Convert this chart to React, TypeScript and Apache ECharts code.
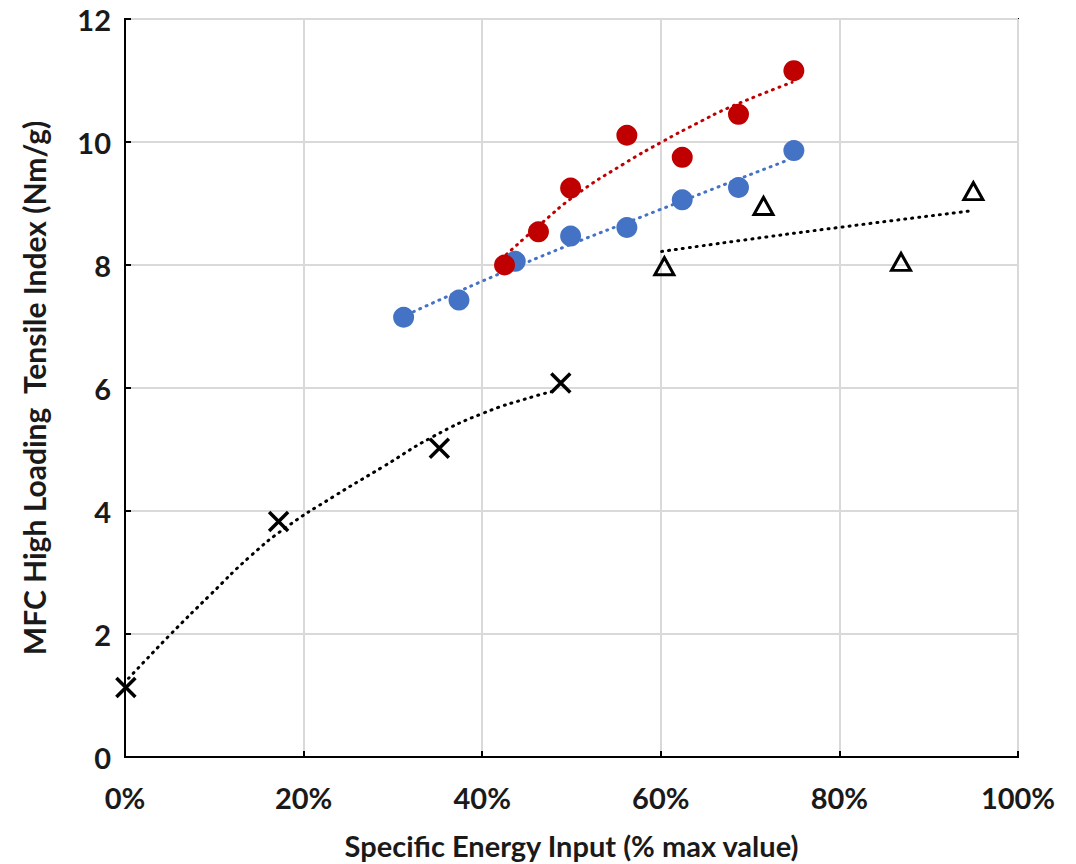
import React, { useEffect, useRef } from "react";
import * as echarts from "echarts";

// Scatter data: [x (% of max specific energy), tensile index (Nm/g)]
const redX = [42.5, 46.3, 49.9, 56.2, 62.4, 68.7, 74.9];
const redY = [8.0, 8.54, 9.25, 10.11, 9.75, 10.45, 11.16];
const blueX = [31.2, 37.4, 43.7, 49.9, 56.2, 62.4, 68.7, 74.9];
const blueY = [7.15, 7.43, 8.06, 8.47, 8.61, 9.06, 9.26, 9.86];
const triX = [60.4, 71.5, 86.9, 95.0];
const triY = [7.98, 8.96, 8.05, 9.2];
const crossX = [0.1, 17.2, 35.2, 48.8];
const crossY = [1.13, 3.83, 5.02, 6.08];

// Trend lines
const redTrendX = [42.7, 46.5, 50.6, 55.8, 60.1, 64.0, 67.8, 74.7];
const redTrendY = [8.17, 8.66, 9.15, 9.64, 10.0, 10.3, 10.57, 10.97];
const blueTrendX = [32.3, 44.6, 59.9, 74.3];
const blueTrendY = [7.24, 8.02, 8.9, 9.71];
const triTrendX = [60.1, 70.0, 79.9, 94.7];
const triTrendY = [8.22, 8.42, 8.61, 8.88];
const crossTrendX = [0.4, 5.0, 9.5, 14.0, 18.1, 23.3, 28.9, 34.5, 40.1, 45.7, 47.8];
const crossTrendY = [1.28, 1.98, 2.63, 3.26, 3.74, 4.23, 4.72, 5.21, 5.59, 5.86, 5.94];

const xTicks = [0, 20, 40, 60, 80, 100];
const yTicks = [0, 2, 4, 6, 8, 10, 12];

const xTitle = "Specific Energy Input (% max value)";
const yTitle = "MFC High Loading  Tensile Index (Nm/g)";

const zip = (xs: number[], ys: number[]) => xs.map((x, i) => [x, ys[i]]);

const FONT = "Lato";
const TEXT = "#1a1a1a";

export default function App() {
  const ref = useRef<HTMLDivElement>(null);
  useEffect(() => {
    if (!ref.current) return;
    const chart = echarts.init(ref.current, null, { renderer: "svg" });
    const dotted = (color: string) => ({
      color,
      width: 3,
      type: [1, 6] as any,
      cap: "round" as const,
    });
    const trend = (xs: number[], ys: number[], color: string) => ({
      type: "line",
      data: zip(xs, ys),
      showSymbol: false,
      symbol: "none",
      smooth: true,
      lineStyle: dotted(color),
      z: 2,
      silent: true,
    });
    chart.setOption({
      animation: false,
      backgroundColor: "#fff",
      grid: {
        left: 125,
        right: 58,
        top: 19,
        bottom: 107,
        containLabel: false,
        outerBoundsMode: "none",
        show: true,
        borderColor: "#000",
        borderWidth: 2,
        backgroundColor: "transparent",
      },
      xAxis: {
        type: "value",
        min: xTicks[0],
        max: xTicks[xTicks.length - 1],
        interval: 20,
        name: xTitle,
        nameLocation: "middle",
        nameGap: 73,
        nameTextStyle: { fontFamily: FONT, fontWeight: "bold", fontSize: 29, lineHeight: 30, color: TEXT },
        axisLine: { show: true, lineStyle: { color: "#000", width: 2 } },
        axisTick: { show: true, inside: true, length: 6, lineStyle: { color: "#000", width: 2 } },
        axisLabel: {
          formatter: "{value}%",
          margin: 26,
          fontFamily: FONT,
          fontWeight: "bold",
          fontSize: 29,
          color: TEXT,
        },
        splitLine: { show: true, lineStyle: { color: "#D9D9D9", width: 2 } },
      },
      yAxis: {
        type: "value",
        min: yTicks[0],
        max: yTicks[yTicks.length - 1],
        interval: 2,
        name: yTitle,
        nameLocation: "middle",
        nameGap: 76,
        nameTextStyle: { fontFamily: FONT, fontWeight: "bold", fontSize: 30, color: TEXT },
        axisLine: { show: true, lineStyle: { color: "#000", width: 2 } },
        axisTick: { show: true, inside: true, length: 6, lineStyle: { color: "#000", width: 2 } },
        axisLabel: {
          margin: 14,
          fontFamily: FONT,
          fontWeight: "bold",
          fontSize: 29,
          color: TEXT,
        },
        splitLine: { show: true, lineStyle: { color: "#D9D9D9", width: 2 } },
      },
      series: [
        trend(crossTrendX, crossTrendY, "#000"),
        trend(triTrendX, triTrendY, "#000"),
        trend(blueTrendX, blueTrendY, "#4472C4"),
        trend(redTrendX, redTrendY, "#C00000"),
        {
          type: "scatter",
          data: zip(crossX, crossY),
          symbol: "path://M0,0L10,10M10,0L0,10",
          symbolSize: 19,
          itemStyle: { color: "none", borderColor: "#000", borderWidth: 3.5, opacity: 1 },
          z: 3,
        },
        {
          type: "scatter",
          data: zip(triX, triY),
          symbol: "triangle",
          symbolSize: [19, 17],
          itemStyle: { color: "none", borderColor: "#000", borderWidth: 3, opacity: 1 },
          z: 3,
        },
        {
          type: "scatter",
          data: zip(blueX, blueY),
          symbol: "circle",
          symbolSize: 21,
          itemStyle: { color: "#4472C4", opacity: 1 },
          z: 3,
        },
        {
          type: "scatter",
          data: zip(redX, redY),
          symbol: "circle",
          symbolSize: 21,
          itemStyle: { color: "#C00000", opacity: 1 },
          z: 3,
        },
      ],
    });
    return () => chart.dispose();
  }, []);
  return (
    <div
      ref={ref}
      style={{ position: "fixed", left: 0, top: 0, width: 1076, height: 864, background: "#fff" }}
    />
  );
}
